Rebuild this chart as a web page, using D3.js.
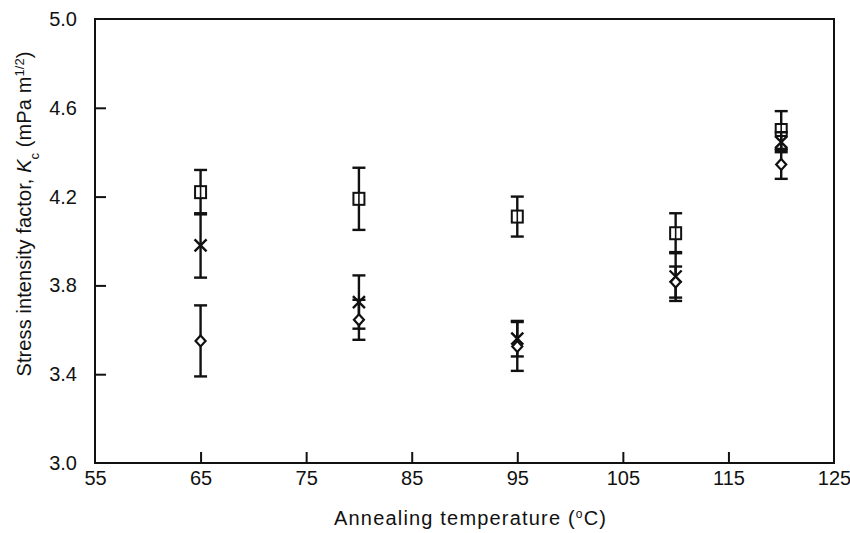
<!DOCTYPE html>
<html>
<head>
<meta charset="utf-8">
<script src="https://cdn.jsdelivr.net/npm/d3@7"></script>
<style>
  body { margin: 0; background: #fff; }
  svg text { font-family: "Liberation Sans", Arial, sans-serif; fill: #111; }
</style>
</head>
<body>
<div id="chart"></div>
<script>
// annealing temperatures (x) and three series of Kc with error bars
const temps = [65, 80, 95, 110, 120];

const squareMean = [4.22, 4.19, 4.11, 4.035, 4.50];
const squareErr  = [0.10, 0.14, 0.09, 0.09, 0.085];

const crossMean  = [3.98, 3.725, 3.56, 3.84, 4.445];
const crossErr   = [0.145, 0.12, 0.08, 0.11, 0.045];

const diamondMean = [3.55, 3.645, 3.525, 3.815, 4.345];
const diamondErr  = [0.16, 0.09, 0.11, 0.07, 0.065];

const xTicks = [55, 65, 75, 85, 95, 105, 115, 125];
const yTicks = [3.0, 3.4, 3.8, 4.2, 4.6, 5.0];

const width = 850, height = 533;
const margin = { top: 19, right: 16, bottom: 70, left: 95 };
const innerW = width - margin.left - margin.right;
const innerH = height - margin.top - margin.bottom;

const svg = d3.select("#chart").append("svg")
  .attr("width", width)
  .attr("height", height);

const g = svg.append("g")
  .attr("transform", `translate(${margin.left},${margin.top})`);

const x = d3.scaleLinear().domain([55, 125]).range([0, innerW]);
const y = d3.scaleLinear().domain([3.0, 5.0]).range([innerH, 0]);

// frame
g.append("rect")
  .attr("x", 0).attr("y", 0)
  .attr("width", innerW).attr("height", innerH)
  .attr("fill", "none")
  .attr("stroke", "#111")
  .attr("stroke-width", 2);

// bottom axis, ticks pointing inward
const xAxis = g.append("g")
  .attr("transform", `translate(0,${innerH})`)
  .call(d3.axisBottom(x).tickValues(xTicks).tickSizeInner(-11).tickSizeOuter(0).tickPadding(8));
xAxis.select(".domain").remove();
xAxis.selectAll(".tick line")
  .attr("stroke", "#111").attr("stroke-width", 2)
  .filter(d => d === 55 || d === 125).remove();
xAxis.selectAll(".tick text")
  .style("font-size", "20px");

// left axis, ticks pointing inward
const yAxis = g.append("g")
  .call(d3.axisLeft(y).tickValues(yTicks).tickFormat(d3.format(".1f")).tickSizeInner(-11).tickSizeOuter(0).tickPadding(18));
yAxis.select(".domain").remove();
yAxis.selectAll(".tick line")
  .attr("stroke", "#111").attr("stroke-width", 2)
  .filter(d => d === 3.0 || d === 5.0).remove();
yAxis.selectAll(".tick text")
  .style("font-size", "20px");

// axis titles
const xt = g.append("text")
  .attr("x", 375)
  .attr("y", innerH + 62)
  .attr("text-anchor", "middle")
  .attr("textLength", 272)
  .style("font-size", "20px");
xt.append("tspan").text("Annealing temperature (");
xt.append("tspan").attr("baseline-shift", "super").style("font-size", "12px").text("o");
xt.append("tspan").text("C)");

const yt = g.append("text")
  .attr("transform", "rotate(-90)")
  .attr("x", -(214 - margin.top))
  .attr("y", -64)
  .attr("text-anchor", "middle")
  .attr("textLength", 325)
  .style("font-size", "20px");
yt.append("tspan").text("Stress intensity factor, ");
yt.append("tspan").style("font-style", "italic").text("K");
yt.append("tspan").attr("baseline-shift", "sub").style("font-size", "13px").text("c");
yt.append("tspan").text(" (mPa m");
yt.append("tspan").attr("baseline-shift", "super").style("font-size", "13px").text("1/2");
yt.append("tspan").text(")");

// series definitions
const series = [
  { key: "square", mean: squareMean, err: squareErr },
  { key: "cross", mean: crossMean, err: crossErr },
  { key: "diamond", mean: diamondMean, err: diamondErr }
];

const capW = 6.5;

series.forEach(s => {
  const pts = temps.map((t, i) => ({ t, v: s.mean[i], e: s.err[i] }));
  const sg = g.append("g").attr("class", "series-" + s.key);

  const eb = sg.selectAll(".eb")
    .data(pts)
    .enter()
    .append("g")
    .attr("class", "eb")
    .attr("stroke", "#111")
    .attr("stroke-width", 2.4);

  eb.append("line")
    .attr("x1", d => x(d.t)).attr("x2", d => x(d.t))
    .attr("y1", d => y(d.v + d.e)).attr("y2", d => y(d.v - d.e));
  eb.append("line")
    .attr("x1", d => x(d.t) - capW).attr("x2", d => x(d.t) + capW)
    .attr("y1", d => y(d.v + d.e)).attr("y2", d => y(d.v + d.e));
  eb.append("line")
    .attr("x1", d => x(d.t) - capW).attr("x2", d => x(d.t) + capW)
    .attr("y1", d => y(d.v - d.e)).attr("y2", d => y(d.v - d.e));

  const m = sg.selectAll(".mk")
    .data(pts)
    .enter()
    .append("g")
    .attr("class", "mk")
    .attr("transform", d => `translate(${x(d.t)},${y(d.v)})`);

  if (s.key === "square") {
    m.append("rect")
      .attr("x", -5.5).attr("y", -6)
      .attr("width", 11).attr("height", 12)
      .attr("fill", "#fff")
      .attr("stroke", "#111").attr("stroke-width", 2);
    m.append("line")
      .attr("x1", 0).attr("x2", 0).attr("y1", -6).attr("y2", 6)
      .attr("stroke", "#111").attr("stroke-width", 1.6);
  } else if (s.key === "cross") {
    m.append("path")
      .attr("d", "M-6,-6L6,6M-6,6L6,-6")
      .attr("fill", "none")
      .attr("stroke", "#111").attr("stroke-width", 2.4);
  } else {
    m.append("path")
      .attr("d", "M0,-5.5L5,0L0,5.5L-5,0Z")
      .attr("fill", "#fff")
      .attr("stroke", "#111").attr("stroke-width", 2.2);
  }
});
</script>
</body>
</html>
